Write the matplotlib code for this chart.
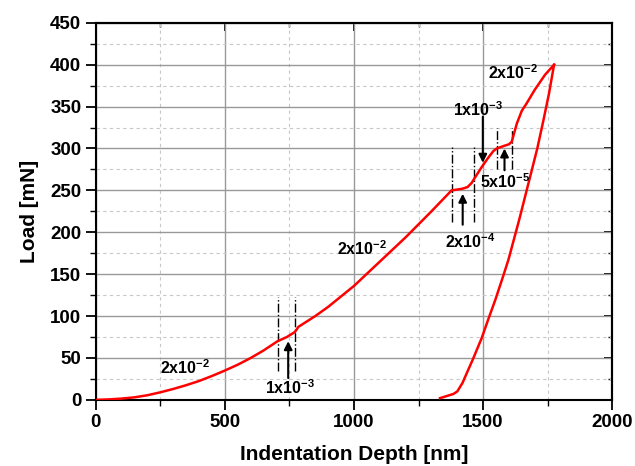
import matplotlib
matplotlib.use("Agg")
import matplotlib.pyplot as plt
from matplotlib.ticker import MultipleLocator

plt.rcParams['font.family'] = ['Liberation Sans', 'DejaVu Sans']
plt.rcParams['font.weight'] = 'bold'
plt.rcParams['mathtext.fontset'] = 'custom'
plt.rcParams['mathtext.rm'] = 'Liberation Sans:bold'
plt.rcParams['mathtext.bf'] = 'Liberation Sans:bold'
plt.rcParams['mathtext.it'] = 'Liberation Sans:bold'

# Loading curve (depth nm, load mN)
load_depth = [0, 50, 100, 150, 200, 250, 300, 350, 400, 450, 500, 550, 600, 650,
              704, 740, 771, 778, 784, 850, 900, 1000, 1100, 1200, 1300, 1378,
              1400, 1420, 1440, 1456, 1470, 1495, 1520, 1540, 1553, 1580, 1600,
              1611, 1620, 1631, 1650, 1669, 1700, 1740, 1775]
load_force = [0, 0.5, 1.5, 3, 5.5, 9, 13, 17.5, 22.5, 28.5, 35, 42, 50, 59,
              70, 75, 81, 84, 87, 100, 111, 136, 165, 194, 225, 250,
              251, 252, 254, 259, 266, 278, 289, 297, 300, 303, 305,
              308, 318, 330, 345, 354, 370, 388, 400]
# Unloading curve
unload_depth = [1775, 1755, 1734, 1710, 1682, 1640, 1598, 1575, 1547, 1520, 1495,
                1460, 1437, 1420, 1400, 1385, 1333]
unload_force = [400, 365, 334, 300, 266, 215, 167, 145, 119, 96, 74,
                48, 32, 20, 10, 7, 2]

# Hold segments marked by dash-dot lines: (x, y_low, y_high)
hold_lines = [(704, 34, 123), (771, 34, 123),
              (1379, 212, 302), (1465, 212, 302),
              (1555, 275, 325), (1611, 275, 325)]

# Strain-rate labels: (text, x, y)
labels = [(r'2x10$^{-2}$', 345, 38),
          (r'1x10$^{-3}$', 752, 14),
          (r'2x10$^{-2}$', 1030, 181),
          (r'2x10$^{-4}$', 1450, 189),
          (r'1x10$^{-3}$', 1482, 346),
          (r'5x10$^{-5}$', 1585, 260),
          (r'2x10$^{-2}$', 1617, 390)]
# Arrows: (x, y_tail, y_head)
arrows = [(745, 26, 70), (1421, 209, 246), (1499, 338, 283), (1583, 274, 300)]

fig = plt.figure(figsize=(6.35, 4.66), dpi=100)
ax = fig.add_axes([0.151, 0.142, 0.813, 0.809])

ax.plot(load_depth, load_force, color='#ff0000', lw=1.8, zorder=3)
ax.plot(unload_depth, unload_force, color='#ff0000', lw=1.8, zorder=3)

for x, y0, y1 in hold_lines:
    ax.plot([x, x], [y0, y1], color='black', lw=1.0, ls='-.', zorder=2)

for txt, x, y in labels:
    ax.text(x, y, txt, ha='center', va='center', fontsize=11.5, fontweight='bold')

for x, y0, y1 in arrows:
    ax.annotate('', xy=(x, y1), xytext=(x, y0),
                arrowprops=dict(arrowstyle='-|>', color='black', lw=1.5,
                                mutation_scale=12, shrinkA=0, shrinkB=0))

ax.set_xlim(0, 2000)
ax.set_ylim(0, 450)
ax.xaxis.set_major_locator(MultipleLocator(500))
ax.xaxis.set_minor_locator(MultipleLocator(250))
ax.yaxis.set_major_locator(MultipleLocator(50))
ax.yaxis.set_minor_locator(MultipleLocator(25))

ax.grid(which='major', color='#999999', lw=1.0, ls='-', zorder=0)
ax.grid(which='minor', color='#c8c8c8', lw=0.8, ls=(0, (3, 3)), zorder=0)
ax.set_axisbelow(True)

for s in ax.spines.values():
    s.set_linewidth(1.5)

ax.tick_params(which='major', direction='out', length=7, width=1.3, labelsize=13.5)
ax.tick_params(which='minor', direction='out', length=4, width=1.0)
for lab in ax.get_xticklabels() + ax.get_yticklabels():
    lab.set_fontweight('bold')

secx = ax.secondary_xaxis('top')
secx.xaxis.set_major_locator(MultipleLocator(500))
secx.xaxis.set_minor_locator(MultipleLocator(250))
secx.tick_params(which='major', direction='in', length=6, width=1.3, labeltop=False)
secx.tick_params(which='minor', direction='in', length=3, width=1.0)
secx.spines['top'].set_linewidth(1.5)
secy = ax.secondary_yaxis('right')
secy.yaxis.set_major_locator(MultipleLocator(50))
secy.yaxis.set_minor_locator(MultipleLocator(25))
secy.tick_params(which='major', direction='in', length=6, width=1.3, labelright=False)
secy.tick_params(which='minor', direction='in', length=3, width=1.0)
secy.spines['right'].set_linewidth(1.5)

ax.set_xlabel('Indentation Depth [nm]', fontsize=15, fontweight='bold', labelpad=10)
ax.set_ylabel('Load [mN]', fontsize=15, fontweight='bold', labelpad=8)

fig.savefig('out.png', dpi=100)
